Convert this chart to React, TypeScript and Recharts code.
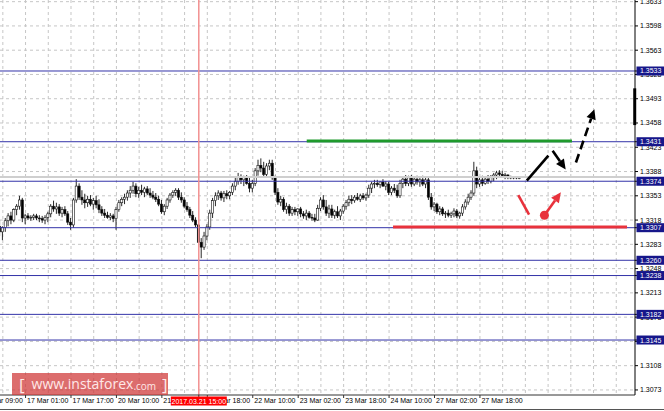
import React from 'react';
import { ComposedChart, Bar, XAxis, YAxis, CartesianGrid, ReferenceLine, ReferenceDot } from 'recharts';

const FONT = '"Liberation Sans", Arial, sans-serif';

// Hourly OHLC bars (EURUSD H1), left to right
const opens = [
  1.3309, 1.3301, 1.3307, 1.3317, 1.3324, 1.3318, 1.3333, 1.3338, 1.3347, 1.3321,
  1.3324, 1.3321, 1.3322, 1.3324, 1.3321, 1.3320, 1.3318, 1.3322, 1.3327, 1.3338,
  1.3334, 1.3337, 1.3328, 1.3333, 1.3327, 1.3315, 1.3311, 1.3347, 1.3367, 1.3351,
  1.3347, 1.3343, 1.3348, 1.3341, 1.3346, 1.3340, 1.3333, 1.3328, 1.3325, 1.3322,
  1.3324, 1.3320, 1.3333, 1.3343, 1.3348, 1.3351, 1.3357, 1.3361, 1.3367, 1.3356,
  1.3361, 1.3358, 1.3363, 1.3357, 1.3354, 1.3351, 1.3348, 1.3341, 1.3330, 1.3338,
  1.3347, 1.3354, 1.3358, 1.3361, 1.3351, 1.3347, 1.3338, 1.3333, 1.3325, 1.3318,
  1.3311, 1.3286, 1.3279, 1.3295, 1.3308, 1.3328, 1.3346, 1.3353, 1.3357, 1.3350,
  1.3356, 1.3353, 1.3358, 1.3367, 1.3374, 1.3380, 1.3376, 1.3379, 1.3371, 1.3364,
  1.3371, 1.3389, 1.3397, 1.3393, 1.3384, 1.3396, 1.3400, 1.3379, 1.3358, 1.3344,
  1.3348, 1.3333, 1.3338, 1.3328, 1.3333, 1.3330, 1.3334, 1.3327, 1.3324, 1.3328,
  1.3322, 1.3321, 1.3318, 1.3335, 1.3347, 1.3337, 1.3328, 1.3334, 1.3325, 1.3330,
  1.3324, 1.3331, 1.3338, 1.3343, 1.3348, 1.3346, 1.3351, 1.3348, 1.3353, 1.3350,
  1.3354, 1.3364, 1.3370, 1.3371, 1.3369, 1.3373, 1.3367, 1.3370, 1.3358, 1.3364,
  1.3361, 1.3353, 1.3371, 1.3377, 1.3371, 1.3379, 1.3370, 1.3377, 1.3373, 1.3376,
  1.3370, 1.3376, 1.3351, 1.3337, 1.3341, 1.3330, 1.3334, 1.3327, 1.3328, 1.3325,
  1.3327, 1.3331, 1.3324, 1.3328, 1.3337, 1.3344, 1.3351, 1.3357, 1.3389, 1.3370,
  1.3376, 1.3371, 1.3377, 1.3374, 1.3380, 1.3383, 1.3386, 1.3384, 1.3382, 1.3383,
  1.3380, 1.3379, 1.3380, 1.3379,
];
const highs = [
  1.3318, 1.3309, 1.3321, 1.3328, 1.3330, 1.3335, 1.3341, 1.3353, 1.3350, 1.3327,
  1.3328, 1.3325, 1.3327, 1.3327, 1.3325, 1.3324, 1.3325, 1.3330, 1.3341, 1.3346,
  1.3343, 1.3341, 1.3337, 1.3338, 1.3331, 1.3321, 1.3350, 1.3377, 1.3371, 1.3361,
  1.3356, 1.3353, 1.3354, 1.3350, 1.3353, 1.3348, 1.3338, 1.3334, 1.3330, 1.3328,
  1.3327, 1.3337, 1.3347, 1.3351, 1.3356, 1.3361, 1.3367, 1.3373, 1.3371, 1.3366,
  1.3369, 1.3366, 1.3367, 1.3364, 1.3360, 1.3357, 1.3353, 1.3347, 1.3341, 1.3350,
  1.3357, 1.3361, 1.3364, 1.3364, 1.3358, 1.3351, 1.3344, 1.3337, 1.3331, 1.3322,
  1.3312, 1.3292, 1.3301, 1.3312, 1.3333, 1.3350, 1.3358, 1.3361, 1.3360, 1.3360,
  1.3361, 1.3360, 1.3371, 1.3379, 1.3386, 1.3384, 1.3382, 1.3383, 1.3380, 1.3376,
  1.3393, 1.3405, 1.3407, 1.3402, 1.3400, 1.3405, 1.3405, 1.3382, 1.3364, 1.3353,
  1.3351, 1.3343, 1.3341, 1.3337, 1.3337, 1.3335, 1.3337, 1.3331, 1.3333, 1.3331,
  1.3327, 1.3327, 1.3340, 1.3351, 1.3354, 1.3347, 1.3340, 1.3340, 1.3333, 1.3338,
  1.3334, 1.3341, 1.3347, 1.3353, 1.3354, 1.3354, 1.3357, 1.3356, 1.3357, 1.3356,
  1.3369, 1.3373, 1.3376, 1.3376, 1.3374, 1.3377, 1.3374, 1.3373, 1.3367, 1.3370,
  1.3369, 1.3376, 1.3380, 1.3383, 1.3382, 1.3383, 1.3380, 1.3382, 1.3380, 1.3382,
  1.3380, 1.3379, 1.3357, 1.3344, 1.3343, 1.3338, 1.3337, 1.3331, 1.3333, 1.3330,
  1.3335, 1.3334, 1.3330, 1.3341, 1.3348, 1.3356, 1.3361, 1.3402, 1.3395, 1.3380,
  1.3382, 1.3380, 1.3383, 1.3383, 1.3386, 1.3389, 1.3390, 1.3389, 1.3386, 1.3384,
  1.3382, 1.3380, 1.3380, 1.3380,
];
const lows = [
  1.3295, 1.3289, 1.3301, 1.3309, 1.3312, 1.3315, 1.3325, 1.3333, 1.3315, 1.3312,
  1.3318, 1.3317, 1.3318, 1.3318, 1.3315, 1.3314, 1.3312, 1.3315, 1.3322, 1.3330,
  1.3327, 1.3324, 1.3322, 1.3324, 1.3311, 1.3304, 1.3307, 1.3343, 1.3347, 1.3340,
  1.3335, 1.3337, 1.3338, 1.3333, 1.3335, 1.3328, 1.3324, 1.3321, 1.3320, 1.3318,
  1.3315, 1.3304, 1.3330, 1.3338, 1.3341, 1.3346, 1.3350, 1.3356, 1.3351, 1.3350,
  1.3354, 1.3351, 1.3354, 1.3350, 1.3348, 1.3344, 1.3338, 1.3327, 1.3325, 1.3334,
  1.3343, 1.3350, 1.3353, 1.3347, 1.3343, 1.3335, 1.3330, 1.3321, 1.3315, 1.3308,
  1.3285, 1.3263, 1.3275, 1.3289, 1.3304, 1.3321, 1.3338, 1.3347, 1.3346, 1.3344,
  1.3348, 1.3348, 1.3354, 1.3361, 1.3369, 1.3370, 1.3367, 1.3369, 1.3358, 1.3358,
  1.3367, 1.3382, 1.3387, 1.3379, 1.3380, 1.3390, 1.3376, 1.3354, 1.3340, 1.3338,
  1.3330, 1.3327, 1.3324, 1.3324, 1.3325, 1.3324, 1.3322, 1.3320, 1.3318, 1.3320,
  1.3317, 1.3315, 1.3317, 1.3331, 1.3333, 1.3324, 1.3321, 1.3321, 1.3320, 1.3321,
  1.3318, 1.3327, 1.3333, 1.3338, 1.3341, 1.3343, 1.3346, 1.3344, 1.3347, 1.3346,
  1.3350, 1.3357, 1.3364, 1.3366, 1.3364, 1.3366, 1.3361, 1.3354, 1.3354, 1.3357,
  1.3350, 1.3350, 1.3364, 1.3367, 1.3367, 1.3366, 1.3367, 1.3369, 1.3366, 1.3367,
  1.3364, 1.3347, 1.3333, 1.3331, 1.3327, 1.3325, 1.3324, 1.3321, 1.3322, 1.3321,
  1.3322, 1.3321, 1.3320, 1.3324, 1.3333, 1.3340, 1.3347, 1.3353, 1.3364, 1.3366,
  1.3367, 1.3369, 1.3370, 1.3371, 1.3374, 1.3377, 1.3380, 1.3379, 1.3377, 1.3377,
  1.3377, 1.3377, 1.3377, 1.3377,
];
const closes = [
  1.3301, 1.3307, 1.3317, 1.3324, 1.3318, 1.3333, 1.3338, 1.3347, 1.3321, 1.3324,
  1.3321, 1.3322, 1.3324, 1.3321, 1.3320, 1.3318, 1.3322, 1.3327, 1.3338, 1.3334,
  1.3337, 1.3328, 1.3333, 1.3327, 1.3315, 1.3311, 1.3347, 1.3367, 1.3351, 1.3347,
  1.3343, 1.3348, 1.3341, 1.3346, 1.3340, 1.3333, 1.3328, 1.3325, 1.3322, 1.3324,
  1.3320, 1.3333, 1.3343, 1.3348, 1.3351, 1.3357, 1.3361, 1.3367, 1.3356, 1.3361,
  1.3358, 1.3363, 1.3357, 1.3354, 1.3351, 1.3348, 1.3341, 1.3330, 1.3338, 1.3347,
  1.3354, 1.3358, 1.3361, 1.3351, 1.3347, 1.3338, 1.3333, 1.3325, 1.3318, 1.3311,
  1.3286, 1.3279, 1.3295, 1.3308, 1.3328, 1.3346, 1.3353, 1.3357, 1.3350, 1.3356,
  1.3353, 1.3358, 1.3367, 1.3374, 1.3380, 1.3376, 1.3379, 1.3371, 1.3364, 1.3371,
  1.3389, 1.3397, 1.3393, 1.3384, 1.3396, 1.3400, 1.3379, 1.3358, 1.3344, 1.3348,
  1.3333, 1.3338, 1.3328, 1.3333, 1.3330, 1.3334, 1.3327, 1.3324, 1.3328, 1.3322,
  1.3321, 1.3318, 1.3335, 1.3347, 1.3337, 1.3328, 1.3334, 1.3325, 1.3330, 1.3324,
  1.3331, 1.3338, 1.3343, 1.3348, 1.3346, 1.3351, 1.3348, 1.3353, 1.3350, 1.3354,
  1.3364, 1.3370, 1.3371, 1.3369, 1.3373, 1.3367, 1.3370, 1.3358, 1.3364, 1.3361,
  1.3353, 1.3371, 1.3377, 1.3371, 1.3379, 1.3370, 1.3377, 1.3373, 1.3376, 1.3370,
  1.3376, 1.3351, 1.3337, 1.3341, 1.3330, 1.3334, 1.3327, 1.3328, 1.3325, 1.3327,
  1.3331, 1.3324, 1.3328, 1.3337, 1.3344, 1.3351, 1.3357, 1.3389, 1.3370, 1.3376,
  1.3371, 1.3377, 1.3374, 1.3380, 1.3383, 1.3386, 1.3384, 1.3382, 1.3383, 1.3380,
  1.3379, 1.3380, 1.3379, 1.3379,
];

// Time axis: bar index of each labelled hour and its label
const xTickBars = [-7, 9, 25, 41, 57, 73, 89, 105, 121, 137, 153, 169];
const xTickLabels = [
  '16 Mar 09:00', '17 Mar 01:00', '17 Mar 17:00', '20 Mar 10:00', '21 Mar 02:00', '21 Mar 18:00',
  '22 Mar 10:00', '23 Mar 02:00', '23 Mar 18:00', '24 Mar 10:00', '27 Mar 02:00', '27 Mar 18:00',
];
const gridBars = [1, 9, 17, 25, 33, 41, 49, 57, 65, 73, 81, 89, 97, 105, 113, 121, 129, 137, 145, 153, 161, 169, 177, 185, 193, 201, 209, 217];
const priceTicks = [1.3073, 1.3108, 1.3143, 1.3178, 1.3213, 1.3248, 1.3283, 1.3318, 1.3353, 1.3388, 1.3423, 1.3458, 1.3493, 1.3528, 1.3563, 1.3598, 1.3633];

// Horizontal levels
const levels = [1.3533, 1.3431, 1.3374, 1.3307, 1.3260, 1.3238, 1.3182, 1.3145];
const bidPrice = 1.3380;
const markerBar = 70;
const markerLabel = '2017.03.21 15:00';
const greenLevel = { from: 108.0, to: 201.4, price: 1.3432 };
const redLevel = { from: 138.4, to: 220.8, price: 1.3308 };

// Forecast arrows (bar index, price)
const blackArrows = [
  { x1: 185.5, y1: 1.3375, x2: 193.1, y2: 1.3411, head: false, dashed: false },
  { x1: 194.6, y1: 1.3418, x2: 199.2, y2: 1.3391, head: true, dashed: false },
  { x1: 202.8, y1: 1.3401, x2: 209.3, y2: 1.3478, head: true, dashed: true },
];
const redArrows = [
  { x1: 182.5, y1: 1.3354, x2: 186.3, y2: 1.3326, head: false, dashed: false },
  { x1: 191.7, y1: 1.3325, x2: 197.5, y2: 1.3358, head: true, dashed: false },
];
const redDot = { x: 191.7, y: 1.3325 };
const scrollMark = { x: 223.5, from: 1.3455, to: 1.3508 };

const data = opens.map((o, i) => ({ i, open: o, high: highs[i], low: lows[i], close: closes[i] }));

// ticks are drawn in order: plain labels first, boxed labels last (on top)
const allXTicks = [...xTickBars, markerBar];
const allYTicks = [...priceTicks, ...levels];

function Candle(props: any) {
  const { x, y, width, height, payload } = props;
  if (!payload || !isFinite(x) || !isFinite(y)) return null;
  const top = Math.min(y, y + height);
  const h = Math.abs(height);
  const cx = x + width / 2;
  const span = payload.high - payload.low || 1;
  const toY = (p: number) => top + ((payload.high - p) / span) * h;
  const yo = toY(payload.open);
  const yc = toY(payload.close);
  const bt = Math.min(yo, yc);
  const bb = Math.max(yo, yc);
  const bull = payload.close >= payload.open;
  return (
    <g>
      <line x1={cx} y1={top} x2={cx} y2={top + h} stroke="#111" strokeWidth={0.9} />
      <rect x={cx - 1.1} y={bt} width={2.2} height={Math.max(bb - bt, 0.8)} fill={bull ? '#fff' : '#000'} stroke="#111" strokeWidth={0.6} />
    </g>
  );
}

function XTick(props: any) {
  const { x, y, payload } = props;
  if (payload.value === markerBar) {
    return (
      <g>
        <rect x={x - 28} y={y - 3.5} width={56} height={9} fill="#ff0000" />
        <text x={x} y={y + 3.5} fontSize={7} fontFamily={FONT} fill="#fff" textAnchor="middle">{markerLabel}</text>
      </g>
    );
  }
  const k = xTickBars.indexOf(payload.value);
  if (k < 0) return null;
  return (
    <text x={x + 1.5} y={y + 3} fontSize={7} fontFamily={FONT} fill="#000" textAnchor="start">
      {xTickLabels[k]}
    </text>
  );
}

function YTick(props: any) {
  const { x, y, payload } = props;
  const v = Number(payload.value);
  if (levels.indexOf(v) >= 0) {
    return (
      <g>
        <rect x={x - 3.5} y={y - 4.5} width={28} height={9} fill="#16168a" />
        <text x={x} y={y + 2.5} fontSize={7} fontFamily={FONT} fill="#fff" textAnchor="start">{v.toFixed(4)}</text>
      </g>
    );
  }
  return (
    <text x={x} y={y + 2.5} fontSize={7} fontFamily={FONT} fill="#000" textAnchor="start">
      {v.toFixed(4)}
    </text>
  );
}

const arrowShape = (color: string, dashed: boolean, head: boolean) => (props: any) => {
  const { x1, y1, x2, y2 } = props;
  if (![x1, y1, x2, y2].every((v) => isFinite(v))) return <g />;
  const ang = Math.atan2(y2 - y1, x2 - x1);
  const L = 10;
  const Wd = 4.8;
  const bx = x2 - L * Math.cos(ang);
  const by = y2 - L * Math.sin(ang);
  const px = -Math.sin(ang) * Wd;
  const py = Math.cos(ang) * Wd;
  return (
    <g>
      <line x1={x1} y1={y1} x2={head ? bx : x2} y2={head ? by : y2} stroke={color} strokeWidth={2.6}
        strokeDasharray={dashed ? '9 5' : undefined} />
      {head && <polygon points={`${x2},${y2} ${bx + px},${by + py} ${bx - px},${by - py}`} fill={color} />}
    </g>
  );
};

const gridGen = (args: any) => {
  const ax = args && args.xAxis;
  if (!ax || !ax.scale) return [];
  const s = ax.scale;
  const f = typeof s === 'function' ? (v: number) => s(v) : (v: number) => (s.map ? s.map(v) : NaN);
  return gridBars.map(f).filter((v: number) => isFinite(v));
};

const horizGen = (args: any) => {
  const ax = args && args.yAxis;
  if (!ax || !ax.scale) return [];
  const s = ax.scale;
  const f = typeof s === 'function' ? (v: number) => s(v) : (v: number) => (s.map ? s.map(v) : NaN);
  return priceTicks.map(f).filter((v: number) => isFinite(v));
};

export default function App() {
  return (
    <div style={{ position: 'absolute', left: 0, top: 0, width: 664, height: 411, background: '#fff', overflow: 'hidden' }}>
      <ComposedChart width={664} height={411} data={data} margin={{ top: 0, right: 0, bottom: 0, left: 0 }}>
        <CartesianGrid stroke="#c6c6c6" strokeDasharray="3 3" verticalCoordinatesGenerator={gridGen} horizontalCoordinatesGenerator={horizGen} />
        <XAxis
          dataKey="i"
          type="number"
          domain={[0, 223.6]}
          allowDataOverflow
          ticks={allXTicks}
          interval={0}
          height={16}
          tickSize={3}
          tick={<XTick />}
          axisLine={{ stroke: '#333' }}
          tickLine={{ stroke: '#333' }}
        />
        <YAxis
          orientation="right"
          type="number"
          domain={[1.30657, 1.36354]}
          allowDataOverflow
          ticks={allYTicks}
          interval={0}
          width={29}
          tickSize={3}
          tick={<YTick />}
          axisLine={{ stroke: '#000' }}
          tickLine={{ stroke: '#000' }}
        />
        <Bar dataKey={(d: any) => [d.low, d.high]} shape={<Candle />} isAnimationActive={false} barSize={2} />
        <ReferenceLine y={bidPrice} stroke="#cfcfcf" strokeWidth={2} />
        {levels.map((v) => (
          <ReferenceLine key={v} y={v} stroke="#3333a8" strokeWidth={1} />
        ))}
        <ReferenceLine x={markerBar} stroke="#f29090" strokeWidth={1.5} />
        <ReferenceLine
          segment={[{ x: greenLevel.from, y: greenLevel.price }, { x: greenLevel.to, y: greenLevel.price }]}
          stroke="#1f9a2c"
          strokeWidth={3}
        />
        <ReferenceLine
          segment={[{ x: redLevel.from, y: redLevel.price }, { x: redLevel.to, y: redLevel.price }]}
          stroke="#e8323c"
          strokeWidth={3}
        />
        <ReferenceLine
          segment={[{ x: scrollMark.x, y: scrollMark.from }, { x: scrollMark.x, y: scrollMark.to }]}
          stroke="#000"
          strokeWidth={3}
        />
        {blackArrows.map((a, k) => (
          <ReferenceLine key={'b' + k} segment={[{ x: a.x1, y: a.y1 }, { x: a.x2, y: a.y2 }]} stroke="#000"
            shape={arrowShape('#000', a.dashed, a.head)} />
        ))}
        {redArrows.map((a, k) => (
          <ReferenceLine key={'r' + k} segment={[{ x: a.x1, y: a.y1 }, { x: a.x2, y: a.y2 }]} stroke="#e8323c"
            shape={arrowShape('#e8323c', a.dashed, a.head)} />
        ))}
        <ReferenceDot x={redDot.x} y={redDot.y} r={4.5} fill="#e8323c" stroke="none" />
      </ComposedChart>
      <div
        style={{
          position: 'absolute', left: 12, top: 373, width: 156, height: 22,
          background: 'rgba(206, 52, 52, 0.72)', color: '#ffe8e8',
          fontFamily: '"Open Sans", "DejaVu Sans", sans-serif', display: 'flex', alignItems: 'center',
          whiteSpace: 'nowrap', lineHeight: 1,
        }}
      >
        <span style={{ fontSize: 17, marginLeft: 7 }}>[</span>
        <span style={{ fontSize: 14, marginLeft: 7 }}>www.instaforex</span>
        <span style={{ fontSize: 10, marginTop: 3 }}>.com</span>
        <span style={{ fontSize: 17, marginLeft: 6 }}>]</span>
      </div>
      <div style={{ position: 'absolute', left: 0, top: 409, width: 664, height: 1, background: '#555' }} />
    </div>
  );
}
